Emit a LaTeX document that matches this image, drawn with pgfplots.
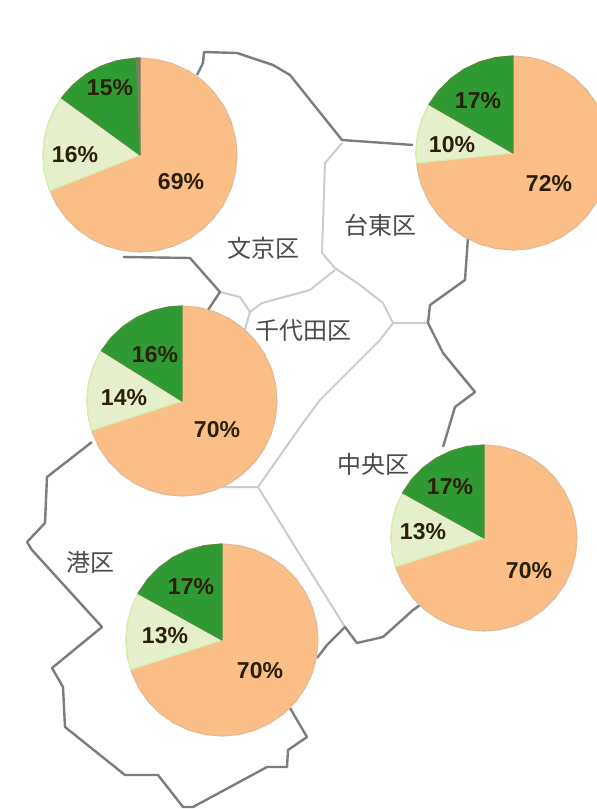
\documentclass[border=0pt]{standalone}
\usepackage{pgfplots}
\pgfplotsset{compat=1.18}
\usepackage{pgfplotstable}
\usepackage{fontspec}
\setmainfont{Liberation Sans}
\newfontfamily\cjk{Noto Sans CJK JP}
\definecolor{po}{HTML}{FBBE86}
\definecolor{pr}{HTML}{E2B896}
\definecolor{pl}{HTML}{E6EFCB}
\definecolor{ple}{HTML}{D2EFAE}
\definecolor{pg}{HTML}{2F9A33}
\definecolor{pge}{HTML}{4F8F3C}
\definecolor{pk}{HTML}{7A7F5E}
\definecolor{outer}{HTML}{7C7C7C}
\definecolor{inner}{HTML}{C9CDD0}
\definecolor{lbl}{HTML}{4A4A4A}
\definecolor{pct}{HTML}{2A2008}
\pgfplotstableread[row sep=\\]{a r\\0 1\\10 1\\20 1\\30 1\\40 1\\50 1\\60 1\\70 1\\80 1\\90 1\\100 1\\110 1\\120 1\\130 1\\140 1\\150 1\\160 1\\170 1\\180 1\\190 1\\200 1\\210 1\\220 1\\230 1\\240 1\\250 1\\260 1\\270 1\\280 1\\290 1\\300 1\\310 1\\320 1\\330 1\\340 1\\350 1\\360 1\\}\disc
% slices of each pie: angle clockwise from the top, radius share
\pgfplotstableread[row sep=\\]{a r\\0 0\\248.4 1\\258 1\\268 1\\278 1\\288 1\\298 1\\306 1\\}\lightA
\pgfplotstableread[row sep=\\]{a r\\0 0\\306 1\\316 1\\326 1\\336 1\\346 1\\358 1\\}\greenA
\pgfplotstableread[row sep=\\]{a r\\0 0\\358 1\\360 1\\}\greyA
\pgfplotstableread[row sep=\\]{a r\\0 0\\264 1\\274 1\\284 1\\294 1\\300 1\\}\lightB
\pgfplotstableread[row sep=\\]{a r\\0 0\\300 1\\310 1\\320 1\\330 1\\340 1\\350 1\\360 1\\}\greenB
\pgfplotstableread[row sep=\\]{a r\\0 0\\252 1\\262 1\\272 1\\282 1\\292 1\\302 1\\}\lightC
\pgfplotstableread[row sep=\\]{a r\\0 0\\302 1\\312 1\\322 1\\332 1\\342 1\\352 1\\360 1\\}\greenC
\pgfplotstableread[row sep=\\]{a r\\0 0\\252 1\\262 1\\272 1\\282 1\\292 1\\299 1\\}\lightD
\pgfplotstableread[row sep=\\]{a r\\0 0\\299 1\\309 1\\319 1\\329 1\\339 1\\349 1\\360 1\\}\greenD
\newcommand\slice[6]{\addplot[#5,fill=#6,line width=1.2pt,line join=round] table[x expr={#1+#3*\thisrow{r}*sin(\thisrow{a})},y expr={#2-#3*\thisrow{r}*cos(\thisrow{a})}] {#4} -- cycle;}
\newcommand\pct[3]{\node[font=\bfseries\fontsize{23}{23}\selectfont,text=pct,inner sep=0pt] at (axis cs:#1,#2) {#3\%};}
\newcommand\area[3]{\node[font=\cjk\fontsize{24}{24}\selectfont,text=lbl,inner sep=0pt] at (axis cs:#1,#2) {#3};}
\begin{document}
\begin{tikzpicture}
\useasboundingbox (0,0) rectangle (597pt,809pt);
\begin{axis}[scale only axis,width=597pt,height=809pt,xmin=0,xmax=597,ymin=0,ymax=809,y dir=reverse,hide axis,clip=true,anchor=south west,at={(0,0)},
  every axis plot/.append style={no markers}]
% inner ward borders
\addplot[inner,line width=2pt,line join=round] coordinates {(342,143)(332,155)(325,163)(322,253)(335,268)(360,285)(383,303)(393,323)(428,323)};
\addplot[inner,line width=2pt,line join=round] coordinates {(335,270)(310,290)(262,303)(250,312)(240,297)(220,292)};
\addplot[inner,line width=2pt,line join=round] coordinates {(250,312)(242,340)};
\addplot[inner,line width=2pt,line join=round] coordinates {(393,323)(380,340)(320,400)(300,427)(258,487)(217,487)};
\addplot[inner,line width=2pt,line join=round] coordinates {(258,487)(297,550)(345,627)};
% outer border
\addplot[outer,line width=2.4pt,line join=round] coordinates {(197,75)(203,63)(204,52)(237,53)(273,65)(290,75)(342,140)(413,145)};
\addplot[outer,line width=2.4pt,line join=round] coordinates {(468,237)(465,280)(430,305)(428,323)(443,353)(475,392)(455,407)(443,447)};
\addplot[outer,line width=2.4pt,line join=round] coordinates {(423,603)(413,610)(383,637)(357,643)(345,627)(327,645)(317,658)};
\addplot[outer,line width=2.4pt,line join=round] coordinates {(290,708)(307,737)(288,750)(287,767)(267,767)(193,807)(183,807)(158,775)(125,775)(65,727)(63,687)(52,668)(102,627)(32,550)(27,542)(45,523)(47,477)(92,442)};
\addplot[outer,line width=2.4pt,line join=round] coordinates {(208,310)(220,292)(190,258)(123,257)};
% pie 1
\slice{140}{155}{97}{\disc}{draw=pr}{po}
\slice{140}{155}{97}{\lightA}{draw=ple}{pl}
\slice{140}{155}{97}{\greenA}{draw=pge}{pg}
\slice{140}{155}{97}{\greyA}{draw=pk}{pk}
% pie 2
\slice{513}{153}{97}{\disc}{draw=pr}{po}
\slice{513}{153}{97}{\lightB}{draw=ple}{pl}
\slice{513}{153}{97}{\greenB}{draw=pge}{pg}
% pie 3
\slice{182}{401}{95}{\disc}{draw=pr}{po}
\slice{182}{401}{95}{\lightC}{draw=ple}{pl}
\slice{182}{401}{95}{\greenC}{draw=pge}{pg}
% pie 4
\slice{484}{538}{93}{\disc}{draw=pr}{po}
\slice{484}{538}{93}{\lightD}{draw=ple}{pl}
\slice{484}{538}{93}{\greenD}{draw=pge}{pg}
% pie 5
\slice{222}{640}{96}{\disc}{draw=pr}{po}
\slice{222}{640}{96}{\lightD}{draw=ple}{pl}
\slice{222}{640}{96}{\greenD}{draw=pge}{pg}
\pct{110}{88}{15}\pct{75}{155}{16}\pct{181}{182}{69}
\pct{478}{101}{17}\pct{452}{145}{10}\pct{549}{184}{72}
\pct{155}{355}{16}\pct{124}{398}{14}\pct{217}{430}{70}
\pct{450}{487}{17}\pct{423}{532}{13}\pct{529}{571}{70}
\pct{191}{587}{17}\pct{165}{636}{13}\pct{260}{671}{70}
\area{263}{248}{文京区}
\area{380}{225}{台東区}
\area{303}{331}{千代田区}
\area{373}{464}{中央区}
\area{90}{562}{港区}
\end{axis}
\end{tikzpicture}
\end{document}
